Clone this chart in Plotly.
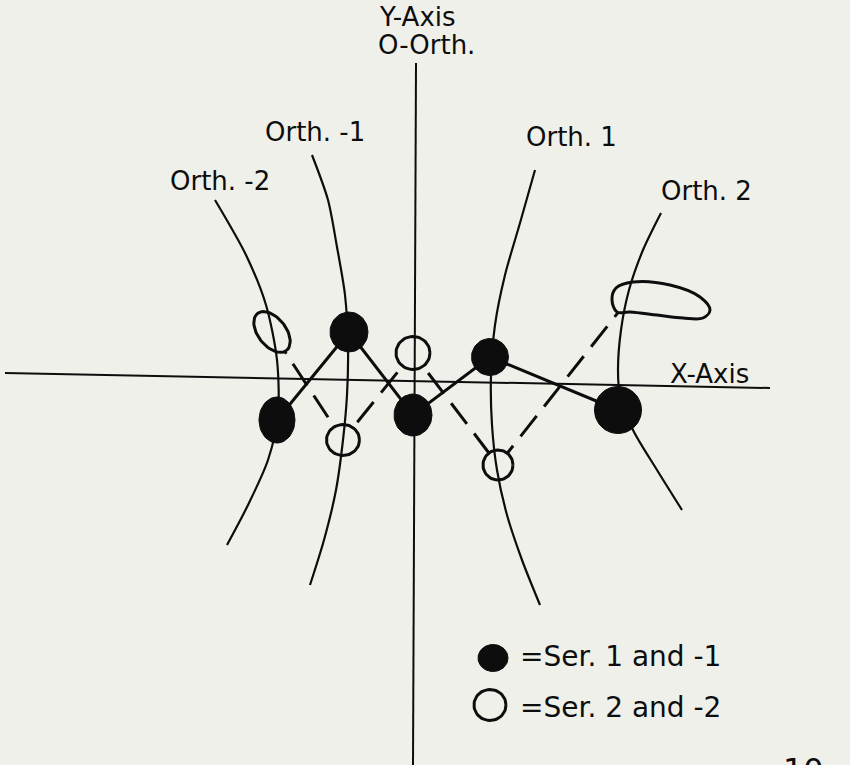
import numpy as np
import plotly.graph_objects as go

# ---- diagram values (units: 1 = 100 px, origin at axis crossing) ----
# Orthogonal trajectories
orth_m2_x = [-2.01, -1.70, -1.50, -1.39, -1.38, -1.48, -1.68, -1.89]
orth_m2_y = [1.75, 1.20, 0.70, 0.15, -0.40, -0.85, -1.30, -1.70]

orth_m1_x = [-1.04, -0.88, -0.79, -0.71, -0.68, -0.69, -0.73, -0.80, -0.92, -1.06]
orth_m1_y = [2.20, 1.75, 1.28, 0.80, 0.30, -0.20, -0.65, -1.15, -1.65, -2.10]

orth_p1_x = [1.19, 1.04, 0.89, 0.79, 0.75, 0.76, 0.81, 0.91, 1.06, 1.24]
orth_p1_y = [2.05, 1.52, 1.00, 0.50, 0.00, -0.50, -0.95, -1.40, -1.85, -2.30]

orth_p2_x = [2.45, 2.27, 2.13, 2.05, 2.02, 2.04, 2.17, 2.41, 2.66]
orth_p2_y = [1.62, 1.25, 0.85, 0.45, 0.05, -0.20, -0.55, -0.95, -1.35]

# Coordinate axes
x_axis_x = [-4.11, 3.54]
x_axis_y = [0.02, -0.13]
y_axis_x = [0.00, -0.03]
y_axis_y = [3.12, -3.90]

# Series 1 and -1 (filled), Series 2 and -2 (open)
ser1_x = [-1.39, -0.67, -0.03, 0.74, 2.02]
ser1_y = [-0.45, 0.43, -0.40, 0.18, -0.35]
ser2_x = [-1.44, -0.73, -0.03, 0.82, 2.12]
ser2_y = [0.43, -0.65, 0.22, -0.90, 0.75]

# ---- styling ----
BG = "#f0f0ea"
INK = "#0d0d0d"
FONT = "DejaVu Sans"
PX = 0.01  # one pixel in diagram units

# marker outlines (width, height, tilt in degrees), in pixels
ser1_shape = [(36, 46, 0), (38, 40, 0), (38, 42, 0), (37, 37, 0), (47, 47, 0)]
ser2_shape = [(47, 28, -52), (33, 31, 0), (34, 33, 0), (30, 30, 0), None]
# elongated loop drawn for the last series-2 point (pixel offsets, y down)
loop_dx = [-16, -12, 5, 42, 72, 82, 75, 55, 29, 2, -11, -16]
loop_dy = [0, -12, -18, -15, -3, 10, 18, 18, 15, 12, 12, 0]


def ellipse(cx, cy, w, h, tilt=0.0, n=60):
    t = np.linspace(0, 2 * np.pi, n)
    a = np.deg2rad(tilt)
    ex = (w / 2) * np.cos(t)
    ey = (h / 2) * np.sin(t)
    x = cx + PX * (ex * np.cos(a) - ey * np.sin(a))
    y = cy + PX * (ex * np.sin(a) + ey * np.cos(a))
    return x, y


fig = go.Figure()

# connecting lines
fig.add_trace(go.Scatter(x=ser2_x, y=ser2_y, mode="lines",
                         line=dict(color=INK, width=3, dash="26px,12px"),
                         hoverinfo="skip"))
fig.add_trace(go.Scatter(x=ser1_x, y=ser1_y, mode="lines",
                         line=dict(color=INK, width=3), hoverinfo="skip"))

# open markers (series 2)
for cx, cy, shp in zip(ser2_x, ser2_y, ser2_shape):
    if shp is None:
        ex = [cx + PX * d for d in loop_dx]
        ey = [cy - PX * d for d in loop_dy]
        fig.add_trace(go.Scatter(x=ex, y=ey, mode="lines", fill="toself",
                                 fillcolor=BG,
                                 line=dict(color=INK, width=3, shape="spline"),
                                 hoverinfo="skip"))
    else:
        ex, ey = ellipse(cx, cy, *shp)
        fig.add_trace(go.Scatter(x=ex, y=ey, mode="lines", fill="toself",
                                 fillcolor=BG, line=dict(color=INK, width=3),
                                 hoverinfo="skip"))

# axes
fig.add_trace(go.Scatter(x=x_axis_x, y=x_axis_y, mode="lines",
                         line=dict(color=INK, width=2), hoverinfo="skip"))
fig.add_trace(go.Scatter(x=y_axis_x, y=y_axis_y, mode="lines",
                         line=dict(color=INK, width=2), hoverinfo="skip"))

# orthogonal trajectories
for ox, oy in [(orth_m2_x, orth_m2_y), (orth_m1_x, orth_m1_y),
               (orth_p1_x, orth_p1_y), (orth_p2_x, orth_p2_y)]:
    fig.add_trace(go.Scatter(x=ox, y=oy, mode="lines",
                             line=dict(color=INK, width=2.2, shape="spline",
                                       smoothing=0.8),
                             hoverinfo="skip"))

# filled markers (series 1)
for cx, cy, shp in zip(ser1_x, ser1_y, ser1_shape):
    ex, ey = ellipse(cx, cy, *shp)
    fig.add_trace(go.Scatter(x=ex, y=ey, mode="lines", fill="toself",
                             fillcolor=INK, line=dict(color=INK, width=1),
                             hoverinfo="skip"))

# key
kx, ky = ellipse(0.77, -2.83, 30, 27)
fig.add_trace(go.Scatter(x=kx, y=ky, mode="lines", fill="toself",
                         fillcolor=INK, line=dict(color=INK, width=1),
                         hoverinfo="skip"))
kx, ky = ellipse(0.74, -3.30, 32, 31)
fig.add_trace(go.Scatter(x=kx, y=ky, mode="lines", fill="toself",
                         fillcolor=BG, line=dict(color=INK, width=3),
                         hoverinfo="skip"))

labels = [
    ("Y-Axis", 0.01, 3.58, "center", 26),
    ("O-Orth.", 0.10, 3.30, "center", 26),
    ("Orth. -1", -1.01, 2.43, "center", 26),
    ("Orth. -2", -1.96, 1.94, "center", 26),
    ("Orth. 1", 1.55, 2.38, "center", 26),
    ("Orth. 2", 2.90, 1.84, "center", 26),
    ("X-Axis", 2.93, 0.01, "center", 26),
    ("=Ser. 1 and -1", 1.02, -2.81, "left", 28),
    ("=Ser. 2 and -2", 1.02, -3.32, "left", 28),
]
annotations = [
    dict(text=t, x=x, y=y, xref="x", yref="y", xanchor=xa, yanchor="middle",
         showarrow=False, font=dict(family=FONT, size=s, color=INK))
    for t, x, y, xa, s in labels
]
# page number, mostly below the bottom edge
annotations.append(dict(text="10", x=3.87, y=-3.74, xref="x", yref="y",
                        xanchor="center", yanchor="top", showarrow=False,
                        font=dict(family=FONT, size=32, color=INK)))

fig.update_layout(
    width=850, height=765,
    margin=dict(l=0, r=0, t=0, b=0),
    paper_bgcolor=BG, plot_bgcolor=BG,
    showlegend=False,
    xaxis=dict(range=[-4.16, 4.34], visible=False, fixedrange=True),
    yaxis=dict(range=[-3.90, 3.75], visible=False, fixedrange=True),
    annotations=annotations,
)

fig.write_html("out.html")
